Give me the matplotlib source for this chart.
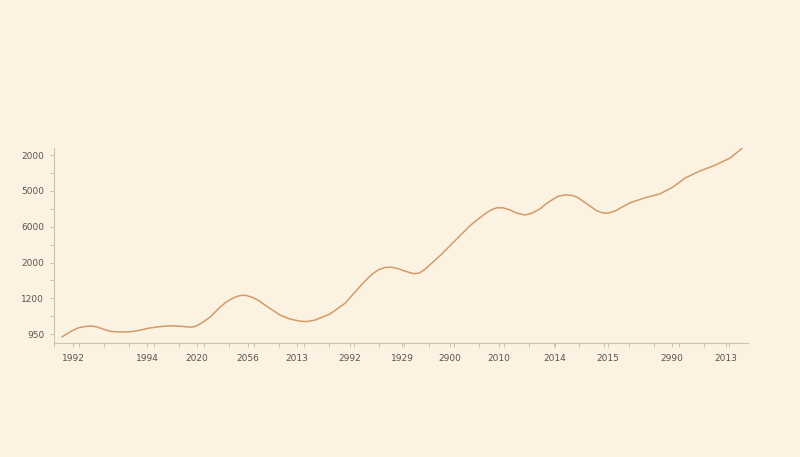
import numpy as np
import matplotlib
matplotlib.use('Agg')
import matplotlib.pyplot as plt
from matplotlib.ticker import MultipleLocator

# smooth line (x in axis steps, y in tick-row units)
x = [0.8, 1.6, 2.4, 2.9, 3.4, 3.9, 4.4, 5.0, 5.6, 6.2, 6.9, 7.5, 8.1, 9.6,
     10.4, 11.1, 11.8, 12.4, 13.0, 13.6, 14.1, 14.6, 15.6,
     16.6, 17.2, 17.8, 18.3, 18.7, 19.2, 19.8, 20.4, 21.1, 22.6, 23.6, 24.6,
     25.3, 26.1, 27.6, 29.1, 30.6, 31.2, 31.8, 32.4, 33.1, 33.7, 34.4, 35.1,
     35.9, 36.5, 37.1, 38.6, 40.1, 41.6, 42.4, 43.1, 43.7, 44.3, 44.9, 45.6,
     46.3, 47.1, 47.8, 48.6, 49.2, 49.8, 50.4, 51.1, 51.7, 52.3, 53.6, 54.2,
     54.8, 55.4, 56.1, 57.6, 59.1, 60.6, 61.9, 63.1, 64.6, 66.1, 67.6, 68.8]
y = [-0.08, 0.06, 0.17, 0.20, 0.22, 0.22, 0.19, 0.13, 0.08, 0.06, 0.06, 0.06,
     0.08, 0.17, 0.20, 0.22, 0.23, 0.22, 0.21, 0.19, 0.21, 0.28, 0.47,
     0.75, 0.89, 0.99, 1.05, 1.08, 1.08, 1.03, 0.95, 0.81, 0.53, 0.42, 0.36,
     0.35, 0.39, 0.56, 0.86, 1.33, 1.51, 1.67, 1.79, 1.86, 1.87, 1.83, 1.76,
     1.69, 1.70, 1.81, 2.19, 2.61, 3.03, 3.21, 3.36, 3.47, 3.53, 3.53, 3.47,
     3.38, 3.33, 3.38, 3.50, 3.64, 3.75, 3.85, 3.89, 3.88, 3.83, 3.58, 3.46,
     3.39, 3.38, 3.44, 3.67, 3.81, 3.92, 4.11, 4.36, 4.56, 4.72, 4.92, 5.19]

# tick labels as printed
xtick_pos = [1.9, 9.3, 14.3, 19.4, 24.3, 29.6, 34.8, 39.6, 44.5, 50.1, 55.4, 61.8, 67.2]
xtick_labels = ['1992', '1994', '2020', '2056', '2013', '2992', '1929',
                '2900', '2010', '2014', '2015', '2990', '2013']
ytick_pos = [0, 1, 2, 3, 4, 5]
ytick_labels = ['950', '1200', '2000', '6000', '5000', '2000']

bg = '#fcf2e2'
fig = plt.figure(figsize=(8, 4.57), dpi=100, facecolor=bg)
ax = fig.add_axes([0.0675, 0.2495, 0.8675, 0.4265])
ax.set_facecolor(bg)

ax.plot(x, y, color='#d49a68', lw=1.1, solid_capstyle='round',
        solid_joinstyle='round')

ax.set_xlim(0, 69.4)
ax.set_ylim(-0.25, 5.2)

ax.set_xticks(xtick_pos)
ax.set_xticklabels(xtick_labels)
ax.set_yticks(ytick_pos)
ax.set_yticklabels(ytick_labels)
ax.xaxis.set_minor_locator(MultipleLocator(2.5))
ax.yaxis.set_minor_locator(MultipleLocator(0.5))

for s in ['top', 'right']:
    ax.spines[s].set_visible(False)
for s in ['left', 'bottom']:
    ax.spines[s].set_color('#cbc3b7')
    ax.spines[s].set_linewidth(0.8)

ax.tick_params(which='both', colors='#cbc3b7', length=3, width=0.7,
               labelcolor='#5a5550', labelsize=6.5)
ax.tick_params(axis='x', pad=5)
ax.tick_params(axis='y', pad=4)

fig.savefig('out.png', dpi=100, facecolor=bg)
